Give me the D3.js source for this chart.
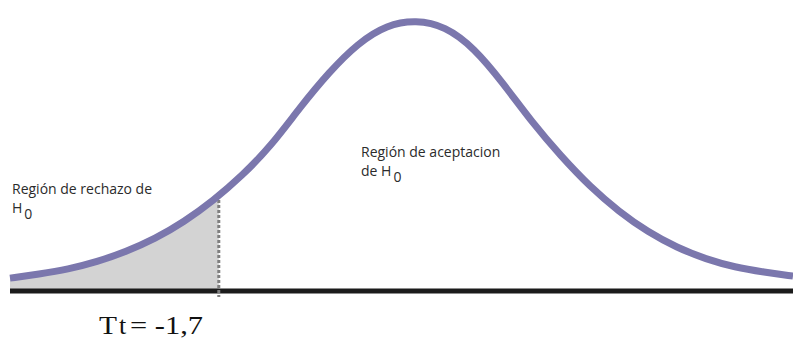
<!DOCTYPE html>
<html lang="es">
<head>
<meta charset="utf-8">
<title>Región de rechazo</title>
<style>
  body { margin: 0; background: #fff; }
  .label { font-family: "Open Sans", sans-serif; font-size: 14px; fill: #2b2b2b; }
  .crit { font-family: "Liberation Serif", "Times New Roman", serif; font-size: 26px; fill: #111; }
</style>
</head>
<body>
<div id="chart"></div>
<script src="https://d3js.org/d3.v7.min.js"></script>
<script>
  // t values along the axis and curve heights
  var tValues = [-3.5, -3.25, -3.0, -2.75, -2.5, -2.25, -2.0, -1.75, -1.5, -1.25, -1.0, -0.75, -0.5, -0.25,
                 0, 0.25, 0.5, 0.75, 1.0, 1.25, 1.5, 1.75, 2.0, 2.25, 2.5, 2.75, 3.0, 3.25];
  var density = [0.019, 0.025, 0.032, 0.043, 0.058, 0.077, 0.102, 0.133, 0.170, 0.214, 0.271, 0.323, 0.366, 0.393,
                 0.400, 0.391, 0.359, 0.307, 0.249, 0.199, 0.154, 0.117, 0.087, 0.064, 0.047, 0.035, 0.028, 0.022];
  var critical = -1.7;
  var critLabel = "= -1,7";
  var rejectLabel = ["Región de rechazo de", "H"];
  var acceptLabel = ["Región de aceptacion", "de H"];

  var width = 793, height = 344;
  var svg = d3.select("#chart").append("svg")
      .attr("width", width)
      .attr("height", height);

  var x = d3.scaleLinear().domain([-3.5, 3.25]).range([10, 793]);
  var y = d3.scaleLinear().domain([0, 0.4]).range([291, 20]);

  var data = tValues.map(function(t, i) { return { t: t, d: density[i] }; });

  // shaded rejection area, clipped at the critical value
  svg.append("clipPath").attr("id", "left")
    .append("rect")
      .attr("x", 0).attr("y", 0)
      .attr("width", x(critical)).attr("height", height);

  var area = d3.area()
      .x(function(d) { return x(d.t); })
      .y0(y(0))
      .y1(function(d) { return y(d.d); })
      .curve(d3.curveBasis);

  svg.append("path")
      .datum(data)
      .attr("d", area)
      .attr("clip-path", "url(#left)")
      .attr("fill", "#d3d3d3");

  // baseline
  svg.append("line")
      .attr("x1", x(-3.5)).attr("x2", width)
      .attr("y1", y(0)).attr("y2", y(0))
      .attr("stroke", "#1b1b1b")
      .attr("stroke-width", 5);

  // dotted critical line
  svg.append("line")
      .attr("x1", x(critical)).attr("x2", x(critical))
      .attr("y1", 200).attr("y2", y(0) + 6)
      .attr("stroke", "#7f7f7f")
      .attr("stroke-width", 3)
      .attr("stroke-dasharray", "3,2");

  var line = d3.line()
      .x(function(d) { return x(d.t); })
      .y(function(d) { return y(d.d); })
      .curve(d3.curveBasis);

  svg.append("path")
      .datum(data)
      .attr("d", line)
      .attr("fill", "none")
      .attr("stroke", "#7b77ad")
      .attr("stroke-width", 7);

  // labels
  svg.append("text").attr("class", "label").attr("x", 12).attr("y", 194).text(rejectLabel[0]);
  var h1 = svg.append("text").attr("class", "label").attr("x", 12).attr("y", 213).text(rejectLabel[1]);
  h1.append("tspan").attr("dx", 2).attr("dy", 6).text("0");

  svg.append("text").attr("class", "label").attr("x", 361).attr("y", 157).text(acceptLabel[0]);
  var h2 = svg.append("text").attr("class", "label").attr("x", 361).attr("y", 176).text(acceptLabel[1]);
  h2.append("tspan").attr("dx", 2).attr("dy", 6).text("0");

  var tt = svg.append("text").attr("class", "crit").attr("x", 99).attr("y", 334)
      .attr("textLength", 18).attr("lengthAdjust", "spacingAndGlyphs").text("T");
  svg.append("text").attr("class", "crit").attr("x", 119).attr("y", 334)
      .attr("font-size", "18px").text("t");
  svg.append("text").attr("class", "crit").attr("x", 130).attr("y", 334)
      .attr("textLength", 73).attr("lengthAdjust", "spacingAndGlyphs").text(critLabel);
</script>
</body>
</html>
